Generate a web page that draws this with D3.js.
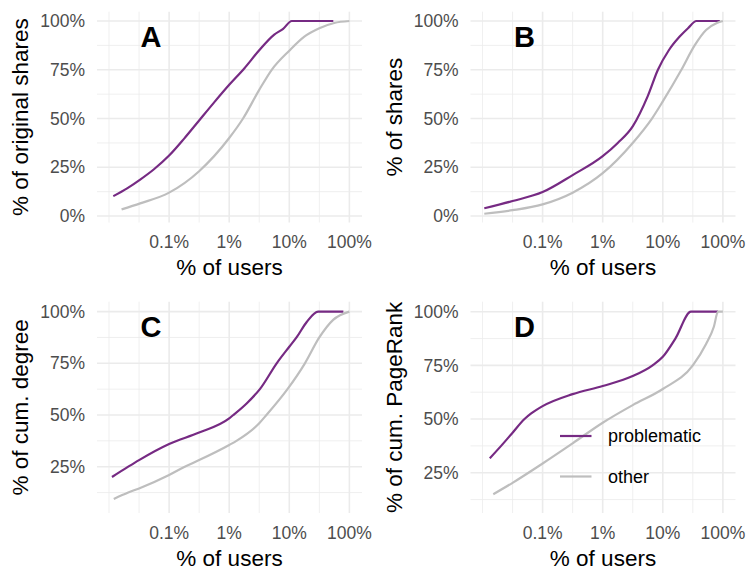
<!DOCTYPE html>
<html>
<head>
<meta charset="utf-8">
<script src="https://cdn.jsdelivr.net/npm/d3@7"></script>
<style>
  html, body { margin: 0; padding: 0; background: #fff; }
  svg { display: block; font-family: "Liberation Sans", Arial, Helvetica, sans-serif; }
</style>
</head>
<body>
<svg id="chart" width="747" height="581"></svg>
<script>
// ---- Data (x = % of users, y = cumulative share fraction) ----
const seriesNames = ["problematic", "other"];
const seriesColors = ["#762a83", "#bebebe"];

const A_problematic = [[0.0118,0.102],[0.02,0.142],[0.033,0.187],[0.056,0.24],[0.1,0.31],[0.178,0.397],[0.316,0.49],[0.562,0.583],[1,0.673],[1.78,0.757],[3.16,0.85],[5.62,0.93],[7.9,0.96],[11,1.0],[54,1.0]];
const A_other = [[0.0162,0.034],[0.033,0.065],[0.1,0.12],[0.316,0.23],[1,0.40],[1.7,0.50],[3.16,0.647],[5.1,0.75],[10,0.848],[17.8,0.92],[31.6,0.963],[56,0.99],[100,1.0]];

const B_problematic = [[0.0107,0.04],[0.0316,0.077],[0.1,0.123],[0.316,0.21],[1,0.307],[1.78,0.375],[3.16,0.46],[5.62,0.615],[8.3,0.75],[12.6,0.85],[19.1,0.92],[26.3,0.963],[36.3,1.0],[89,1.0]];
const B_other = [[0.0107,0.012],[0.0316,0.03],[0.1,0.06],[0.316,0.12],[1,0.22],[3.16,0.375],[6.6,0.50],[10,0.588],[20.4,0.75],[33.9,0.875],[52.5,0.954],[79.4,0.99],[100,1.0]];

const C_problematic = [[0.0112,0.20],[0.0209,0.25],[0.0316,0.282],[0.1,0.36],[0.316,0.415],[1,0.484],[1.17,0.50],[1.95,0.556],[3.24,0.625],[6.17,0.75],[10,0.83],[13.2,0.875],[19.5,0.95],[30.2,1.0],[79.4,1.0]];
const C_other = [[0.012,0.094],[0.0209,0.125],[0.0316,0.145],[0.1,0.21],[0.182,0.25],[0.316,0.282],[1,0.355],[1.32,0.375],[3.16,0.46],[4.17,0.50],[9.33,0.625],[18.2,0.75],[31.6,0.875],[53.7,0.96],[100,1.0]];

const D_problematic = [[0.0132,0.317],[0.0204,0.375],[0.0309,0.433],[0.05,0.50],[0.0646,0.526],[0.1,0.56],[0.316,0.616],[1,0.654],[3.16,0.70],[6.76,0.75],[10,0.79],[16.2,0.875],[29.5,1.0],[83,1.0]];
const D_other = [[0.0151,0.15],[0.0316,0.203],[0.1,0.293],[0.316,0.387],[1,0.483],[3.16,0.565],[10,0.64],[31.6,0.75],[52.5,0.85],[70.8,0.93],[83,1.0],[100,1.0]];

const xTicks = [0.1, 1, 10, 100];
const xTickLabels = ["0.1%", "1%", "10%", "100%"];
const yTicksTop = [0, 0.25, 0.5, 0.75, 1];
const yTicksBottom = [0.25, 0.5, 0.75, 1];
const panelLetters = ["A", "B", "C", "D"];
const yTitles = ["% of original shares", "% of shares", "% of cum. degree", "% of cum. PageRank"];
const xTitle = "% of users";

// ---- Layout ----
const panels = [
  { x0: 97,    x1: 362,   y0: 11.7,  y1: 222.5, yDom: [-0.033, 1.0477], yt: yTicksTop,    data: [A_problematic, A_other] },
  { x0: 470.5, x1: 735.5, y0: 11.7,  y1: 222.5, yDom: [-0.033, 1.0477], yt: yTicksTop,    data: [B_problematic, B_other] },
  { x0: 97,    x1: 362,   y0: 301.7, y1: 513,   yDom: [0.026, 1.048],   yt: yTicksBottom, data: [C_problematic, C_other] },
  { x0: 470.5, x1: 735.5, y0: 301.7, y1: 513,   yDom: [0.0624, 1.0466], yt: yTicksBottom, data: [D_problematic, D_other] }
];
const xDom = [Math.pow(10, -2.2), Math.pow(10, 2.21)];

const svg = d3.select("#chart");
const gridColor = "#ebebeb";

function minorBreaksLinear(dom, step) {
  const out = [];
  for (let v = Math.ceil(dom[0] / step) * step; v <= dom[1] + 1e-9; v += step) out.push(+v.toFixed(4));
  return out;
}

panels.forEach((p, i) => {
  const x = d3.scaleLog().domain(xDom).range([p.x0, p.x1]);
  const y = d3.scaleLinear().domain(p.yDom).range([p.y1, p.y0]);
  const g = svg.append("g");

  // minor x grid: half decades
  const lx0 = Math.log10(xDom[0]), lx1 = Math.log10(xDom[1]);
  const xMinor = [];
  for (let l = Math.ceil(lx0 * 2) / 2; l <= lx1 + 1e-9; l += 0.5) {
    const v = Math.pow(10, l);
    if (!xTicks.some(t => Math.abs(Math.log10(t) - l) < 1e-6)) xMinor.push(v);
  }
  const yMinor = minorBreaksLinear(p.yDom, 0.125).filter(v => !p.yt.some(t => Math.abs(t - v) < 1e-6));

  g.selectAll(".ymin").data(yMinor).join("line")
    .attr("x1", p.x0).attr("x2", p.x1).attr("y1", d => y(d)).attr("y2", d => y(d))
    .attr("stroke", gridColor).attr("stroke-width", 0.8);
  g.selectAll(".xmin").data(xMinor).join("line")
    .attr("y1", p.y0).attr("y2", p.y1).attr("x1", d => x(d)).attr("x2", d => x(d))
    .attr("stroke", gridColor).attr("stroke-width", 0.8);
  g.selectAll(".ymaj").data(p.yt).join("line")
    .attr("x1", p.x0).attr("x2", p.x1).attr("y1", d => y(d)).attr("y2", d => y(d))
    .attr("stroke", gridColor).attr("stroke-width", 1.6);
  g.selectAll(".xmaj").data(xTicks).join("line")
    .attr("y1", p.y0).attr("y2", p.y1).attr("x1", d => x(d)).attr("x2", d => x(d))
    .attr("stroke", gridColor).attr("stroke-width", 1.6);

  // tick labels
  g.selectAll(".ytl").data(p.yt).join("text")
    .attr("x", p.x0 - 12).attr("y", d => y(d)).attr("dy", "0.35em")
    .attr("text-anchor", "end").attr("font-size", 17.5).attr("fill", "#4d4d4d")
    .text(d => d3.format(".0%")(d));
  g.selectAll(".xtl").data(xTicks).join("text")
    .attr("x", d => x(d)).attr("y", p.y1 + 25.5)
    .attr("text-anchor", "middle").attr("font-size", 17.5).attr("fill", "#4d4d4d")
    .text((d, j) => xTickLabels[j]);

  // titles
  g.append("text")
    .attr("x", (p.x0 + p.x1) / 2).attr("y", p.y1 + 52.5)
    .attr("text-anchor", "middle").attr("font-size", 22.5).attr("fill", "#000")
    .text(xTitle);
  g.append("text")
    .attr("transform", `translate(${p.x0 - 69},${(p.y0 + p.y1) / 2}) rotate(-90)`)
    .attr("text-anchor", "middle").attr("font-size", 22.5).attr("fill", "#000")
    .text(yTitles[i]);

  // lines
  const line = d3.line().x(d => x(d[0])).y(d => y(d[1])).curve(d3.curveMonotoneX);
  p.data.forEach((s, k) => {
    g.append("path").datum(s)
      .attr("d", line).attr("fill", "none")
      .attr("stroke", seriesColors[k]).attr("stroke-width", 2.2)
      .attr("stroke-linejoin", "round").attr("stroke-linecap", "butt");
  });

  // panel letter
  g.append("text")
    .attr("x", x(0.05)).attr("y", p.y0 + 35.3)
    .attr("text-anchor", "middle").attr("font-size", 29).attr("font-weight", "bold")
    .attr("fill", "#000").text(panelLetters[i]);

  // legend in panel D
  if (i === 3) {
    const lg = g.append("g");
    seriesNames.forEach((n, k) => {
      const ly = p.y0 + 134.3 + k * 40.5;
      lg.append("line").attr("x1", p.x0 + 89.5).attr("x2", p.x0 + 121)
        .attr("y1", ly).attr("y2", ly)
        .attr("stroke", seriesColors[k]).attr("stroke-width", 2.2);
      lg.append("text").attr("x", p.x0 + 137.5).attr("y", ly).attr("dy", "0.35em")
        .attr("font-size", 18).attr("fill", "#000").text(n);
    });
  }
});
</script>
</body>
</html>
